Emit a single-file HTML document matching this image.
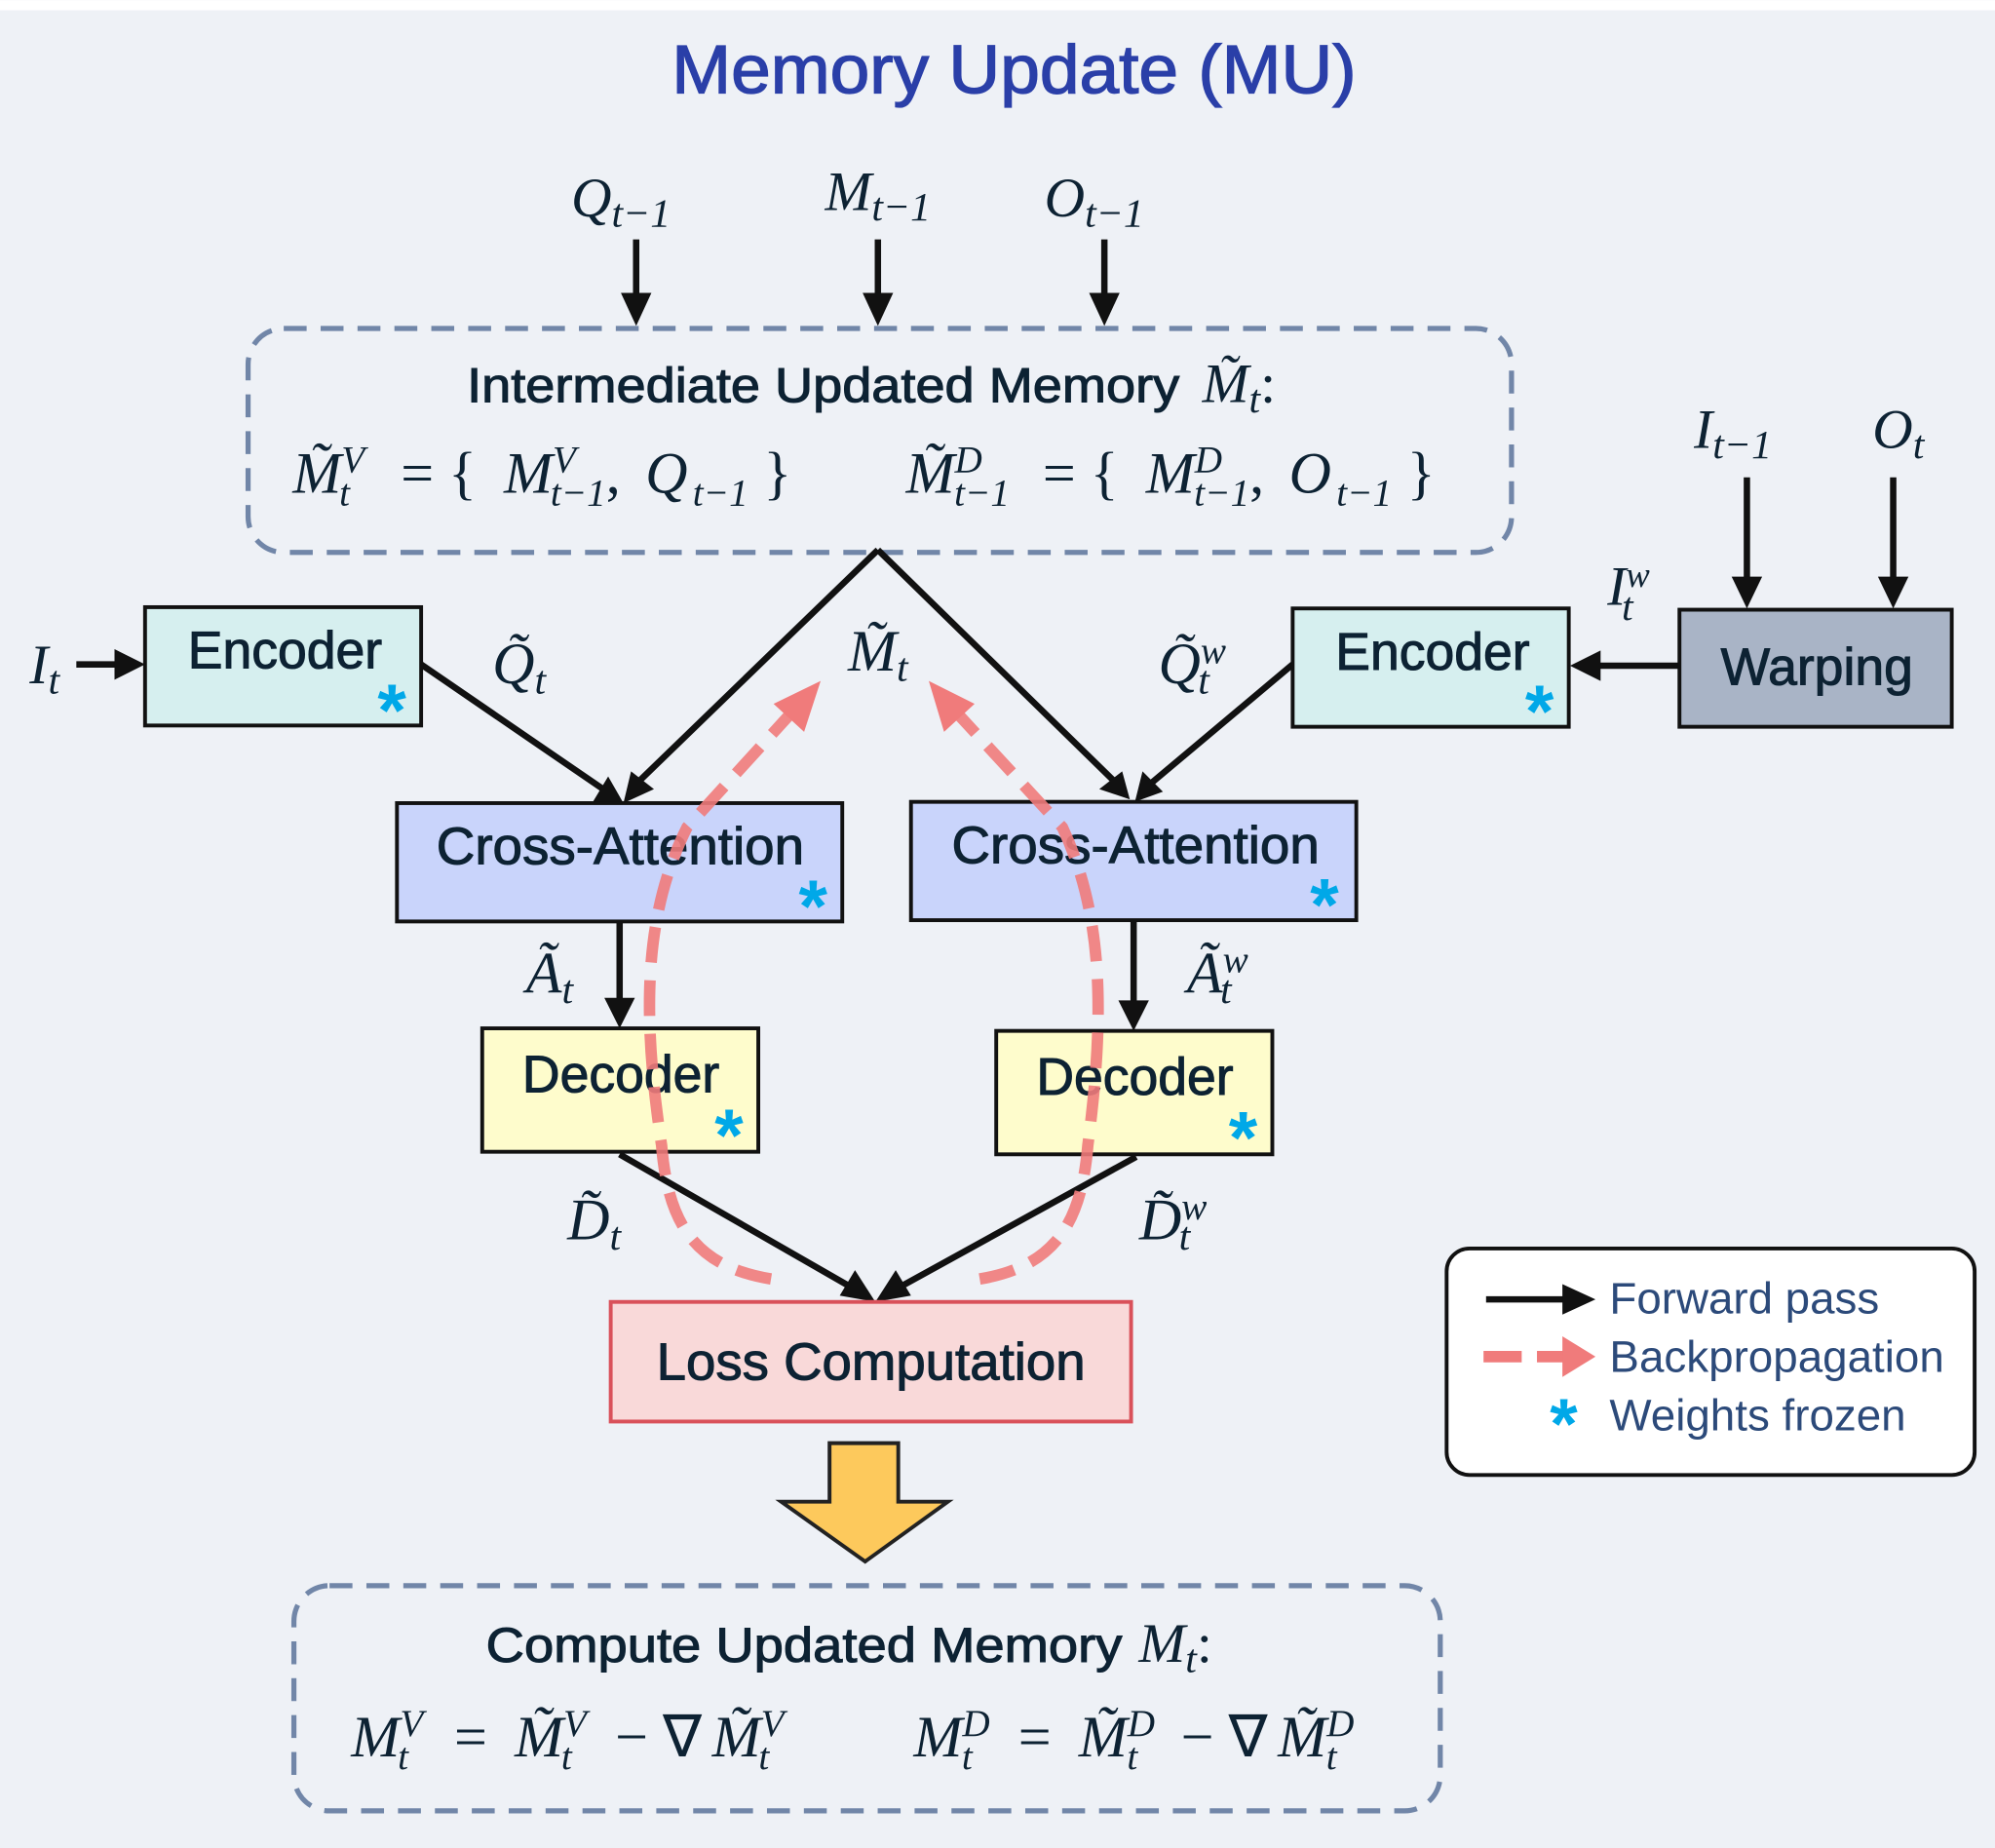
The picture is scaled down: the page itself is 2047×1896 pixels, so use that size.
<!DOCTYPE html>
<html><head><meta charset="utf-8"><style>
html,body{margin:0;padding:0;background:#eef1f6;}
svg{display:block}
.s{font-family:"Liberation Sans",sans-serif;fill:#0d2233;stroke:#0d2233;stroke-width:0.8}
.m{font-family:"Liberation Serif",serif;font-style:italic;fill:#0d2233}
.star{font-family:"Liberation Sans",sans-serif;fill:#00a8e8;font-weight:bold}
</style></head><body>
<svg width="2047" height="1896" viewBox="0 0 1568 1452" xmlns="http://www.w3.org/2000/svg">
<rect x="0" y="0" width="1568" height="8" fill="#ffffff"/>
<rect x="0" y="8" width="1568" height="1444" fill="#eef1f6"/>
<text x="528" y="73" textLength="538" lengthAdjust="spacingAndGlyphs" font-family="Liberation Sans,sans-serif" font-size="54" fill="#2a3fa8" stroke="#2a3fa8" stroke-width="1">Memory Update (MU)</text>

<!-- top inputs -->
<g class="m" font-size="44" text-anchor="middle">
<text x="488" y="170">Q<tspan font-size="32" dy="8">t−1</tspan></text>
<text x="690" y="165">M<tspan font-size="32" dy="8">t−1</tspan></text>
<text x="860" y="170">O<tspan font-size="32" dy="8">t−1</tspan></text>
<text x="1362" y="352">I<tspan font-size="32" dy="8">t−1</tspan></text>
<text x="1492" y="352">O<tspan font-size="32" dy="8">t</tspan></text>
<text x="35" y="537">I<tspan font-size="32" dy="8">t</tspan></text>
<text x="1280" y="475">I<tspan font-size="28" dy="-14">w</tspan><tspan font-size="32" dx="-22" dy="26">t</tspan></text>
</g>
<g stroke="#111" stroke-width="5" fill="#111">
<line x1="500" y1="188" x2="500" y2="232"/><polygon points="488,230 512,230 500,256" stroke="none"/>
<line x1="690" y1="188" x2="690" y2="232"/><polygon points="678,230 702,230 690,256" stroke="none"/>
<line x1="868" y1="188" x2="868" y2="232"/><polygon points="856,230 880,230 868,256" stroke="none"/>
<line x1="1373" y1="375" x2="1373" y2="455"/><polygon points="1361,453 1385,453 1373,478" stroke="none"/>
<line x1="1488" y1="375" x2="1488" y2="455"/><polygon points="1476,453 1500,453 1488,478" stroke="none"/>
<line x1="60" y1="522" x2="92" y2="522"/><polygon points="90,510 90,534 114,522" stroke="none"/>
<line x1="1320" y1="523" x2="1256" y2="523"/><polygon points="1258,511 1258,535 1234,523" stroke="none"/>
</g>

<!-- top dashed box -->
<rect x="195" y="258" width="993" height="176" rx="28" fill="none" stroke="#7186a8" stroke-width="4" stroke-dasharray="18,11"/>
<text class="s" x="367" y="316" textLength="560" lengthAdjust="spacingAndGlyphs" font-size="38">Intermediate Updated Memory</text>
<text class="m" x="945" y="316" font-size="44">M̃<tspan font-size="32" dy="8">t</tspan><tspan dy="-8" font-style="normal">:</tspan></text>
<g class="m" font-size="46">
<text x="230" y="387">M̃<tspan font-size="30" dy="-16">V</tspan><tspan font-size="30" dx="-20" dy="26">t</tspan><tspan dx="40" dy="-10" font-style="normal">= {  </tspan><tspan dx="10">M</tspan><tspan font-size="30" dy="-16">V</tspan><tspan font-size="30" dx="-20" dy="26">t−1</tspan><tspan dy="-10" font-style="normal">, </tspan><tspan dx="8">Q</tspan><tspan font-size="30" dy="10" dx="4">t−1</tspan><tspan dx="12" dy="-10" font-style="normal">}</tspan></text>
<text x="712" y="387">M̃<tspan font-size="30" dy="-16">D</tspan><tspan font-size="30" dx="-22" dy="26">t−1</tspan><tspan dx="26" dy="-10" font-style="normal">= {  </tspan><tspan dx="10">M</tspan><tspan font-size="30" dy="-16">D</tspan><tspan font-size="30" dx="-22" dy="26">t−1</tspan><tspan dy="-10" font-style="normal">, </tspan><tspan dx="8">O</tspan><tspan font-size="30" dy="10" dx="4">t−1</tspan><tspan dx="12" dy="-10" font-style="normal">}</tspan></text>
</g>

<!-- forward lines -->
<g stroke="#111" stroke-width="5" fill="none">
<polyline points="331,522 474,620"/>
<polyline points="690,432 500,616"/>
<polyline points="690,432 878,616"/>
<polyline points="1016,522 904,616"/>
<line x1="487" y1="722" x2="487" y2="786"/>
<line x1="891" y1="722" x2="891" y2="788"/>
<line x1="487" y1="907" x2="670" y2="1012"/>
<line x1="893" y1="909" x2="706" y2="1012"/>
</g>
<g fill="#111">
<polygon points="466,630 490,631 478,610"/>
<polygon points="490,631 514,620 496,606" />
<polygon points="888,628 864,620 882,606"/>
<polygon points="892,630 898,606 914,622"/>
<polygon points="475,784 499,784 487,808"/>
<polygon points="879,786 903,786 891,810"/>
<polygon points="688,1023 660,1018 672,998"/>
<polygon points="688,1023 704,998 716,1018"/>
</g>

<!-- boxes -->
<rect x="114" y="477" width="217" height="93" fill="#d6efef" stroke="#111" stroke-width="3"/>
<text class="s" x="224" y="525" text-anchor="middle" font-size="41">Encoder</text>
<rect x="1016" y="478" width="217" height="93" fill="#d6efef" stroke="#111" stroke-width="3"/>
<text class="s" x="1126" y="526" text-anchor="middle" font-size="41">Encoder</text>
<rect x="1320" y="479" width="214" height="92" fill="#a9b4c6" stroke="#111" stroke-width="3"/>
<text class="s" x="1428" y="538" text-anchor="middle" font-size="41">Warping</text>
<rect x="312" y="631" width="350" height="93" fill="#c9d4fb" stroke="#111" stroke-width="3"/>
<text class="s" x="343" y="679" textLength="289" lengthAdjust="spacingAndGlyphs" font-size="41">Cross-Attention</text>
<rect x="716" y="630" width="350" height="93" fill="#c9d4fb" stroke="#111" stroke-width="3"/>
<text class="s" x="748" y="678" textLength="289" lengthAdjust="spacingAndGlyphs" font-size="41">Cross-Attention</text>
<rect x="379" y="808" width="217" height="97" fill="#fefccc" stroke="#111" stroke-width="3"/>
<text class="s" x="488" y="858" text-anchor="middle" font-size="41">Decoder</text>
<rect x="783" y="810" width="217" height="97" fill="#fefccc" stroke="#111" stroke-width="3"/>
<text class="s" x="892" y="860" text-anchor="middle" font-size="41">Decoder</text>
<rect x="480" y="1023" width="409" height="94" fill="#f9d9d9" stroke="#d9515a" stroke-width="3"/>
<text class="s" x="516" y="1084" textLength="337" lengthAdjust="spacingAndGlyphs" font-size="41">Loss Computation</text>

<!-- stars -->
<g class="star" font-size="58" text-anchor="middle">
<text x="308" y="578">*</text><text x="1210" y="579">*</text>
<text x="639" y="732">*</text><text x="1041" y="731">*</text>
<text x="573" y="912">*</text><text x="977" y="914">*</text>
</g>

<!-- backprop -->
<g stroke="#f07b7b" stroke-width="9" fill="none" stroke-dasharray="28,14" opacity="0.9">
<path d="M606,1005 C545,995 525,960 520,900 C505,800 505,720 540,650 L622,560"/>
<path d="M770,1005 C830,995 850,960 855,900 C868,800 868,720 835,650 L752,560"/>
</g>
<g fill="#f07b7b">
<polygon points="645,535 608,553 632,575"/>
<polygon points="730,535 742,575 766,553"/>
</g>

<!-- labels -->
<g class="m" font-size="46" text-anchor="middle">
<text x="408" y="537">Q̃<tspan font-size="32" dy="8">t</tspan></text>
<text x="690" y="527">M̃<tspan font-size="32" dy="8">t</tspan></text>
<text x="937" y="537">Q̃<tspan font-size="30" dy="-16">w</tspan><tspan font-size="32" dx="-22" dy="24">t</tspan></text>
<text x="432" y="780">Ã<tspan font-size="32" dy="8">t</tspan></text>
<text x="957" y="780">Ã<tspan font-size="30" dy="-16">w</tspan><tspan font-size="32" dx="-22" dy="24">t</tspan></text>
<text x="467" y="974">D̃<tspan font-size="32" dy="8">t</tspan></text>
<text x="922" y="974">D̃<tspan font-size="30" dy="-16">w</tspan><tspan font-size="32" dx="-22" dy="24">t</tspan></text>
</g>

<!-- big arrow -->
<polygon points="652,1134 706,1134 706,1180 745,1180 680,1227 614,1180 652,1180" fill="#fdc95c" stroke="#222" stroke-width="3"/>

<!-- bottom box -->
<rect x="231" y="1246" width="901" height="177" rx="28" fill="none" stroke="#7186a8" stroke-width="4" stroke-dasharray="18,11"/>
<text class="s" x="382" y="1306" textLength="500" lengthAdjust="spacingAndGlyphs" font-size="38">Compute Updated Memory</text>
<text class="m" x="895" y="1306" font-size="44">M<tspan font-size="32" dy="8">t</tspan><tspan dy="-8" font-style="normal">:</tspan></text>
<g class="m" font-size="46">
<text x="276" y="1380">M<tspan font-size="30" dy="-16">V</tspan><tspan font-size="30" dx="-20" dy="26">t</tspan><tspan dx="36" dy="-10" font-style="normal">=  </tspan><tspan dx="10">M̃</tspan><tspan font-size="30" dy="-16">V</tspan><tspan font-size="30" dx="-20" dy="26">t</tspan><tspan dx="34" dy="-10" font-style="normal">−  ∇</tspan><tspan dx="8">M̃</tspan><tspan font-size="30" dy="-16">V</tspan><tspan font-size="30" dx="-20" dy="26">t</tspan></text>
<text x="718" y="1380">M<tspan font-size="30" dy="-16">D</tspan><tspan font-size="30" dx="-22" dy="26">t</tspan><tspan dx="36" dy="-10" font-style="normal">=  </tspan><tspan dx="10">M̃</tspan><tspan font-size="30" dy="-16">D</tspan><tspan font-size="30" dx="-22" dy="26">t</tspan><tspan dx="34" dy="-10" font-style="normal">−  ∇</tspan><tspan dx="8">M̃</tspan><tspan font-size="30" dy="-16">D</tspan><tspan font-size="30" dx="-22" dy="26">t</tspan></text>
</g>

<!-- legend -->
<rect x="1137" y="981" width="415" height="178" rx="18" fill="#fff" stroke="#111" stroke-width="3"/>
<line x1="1168" y1="1021" x2="1232" y2="1021" stroke="#111" stroke-width="5"/>
<polygon points="1228,1009 1228,1033 1254,1021" fill="#111"/>
<line x1="1166" y1="1066" x2="1232" y2="1066" stroke="#f07b7b" stroke-width="9" stroke-dasharray="30,12"/>
<polygon points="1228,1050 1228,1082 1254,1066" fill="#f07b7b"/>
<text class="star" x="1229" y="1138" text-anchor="middle" font-size="56">*</text>
<g font-family="Liberation Sans,sans-serif" font-size="35" fill="#2c4a7a">
<text x="1265" y="1032" textLength="212" lengthAdjust="spacingAndGlyphs">Forward pass</text>
<text x="1265" y="1078" textLength="263" lengthAdjust="spacingAndGlyphs">Backpropagation</text>
<text x="1265" y="1124" textLength="233" lengthAdjust="spacingAndGlyphs">Weights frozen</text>
</g>
</svg>
</body></html>
